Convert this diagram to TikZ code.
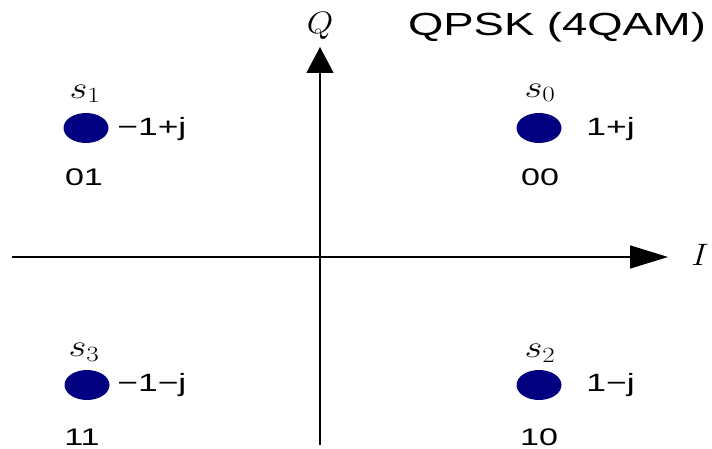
\RequirePackage{fix-cm}
\documentclass[tikz,border=0pt]{standalone}
\usepackage{fontspec}
\setsansfont{Liberation Sans}
\usetikzlibrary{arrows.meta,shapes.geometric}
\definecolor{dotblue}{HTML}{000080}
\begin{document}
\begin{tikzpicture}[x=1pt,y=-1pt,
  axis/.style={line width=1.4pt},
  sym/.style={ellipse,fill=dotblue,minimum width=45pt,minimum height=30pt,inner sep=0pt},
  val/.style={font=\sffamily\fontsize{25}{27}\selectfont,anchor=west,xscale=1.42,inner sep=0pt},
  bits/.style={font=\sffamily\fontsize{24}{26}\selectfont,xscale=1.42,inner sep=0pt},
  slab/.style={font=\fontsize{31}{33}\selectfont,xscale=1.25,inner sep=0pt},
  axlab/.style={font=\fontsize{31}{33}\selectfont,xscale=1.1,inner sep=0pt}]
\useasboundingbox (0,0) rectangle (712,449);
\coordinate (xl) at (12,257);
\coordinate (xr) at (668,257);
\coordinate (yb) at (320,445);
\coordinate (yt) at (320,47);
\draw[axis,-{Triangle[length=38pt,width=23pt]}] (xl) -- (xr);
\draw[axis,-{Triangle[length=26pt,width=27pt]}] (yb) -- (yt);
\node[axlab] (Ilab) at (700,255) {$I$};
\node[axlab] (Qlab) at (320,26) {$Q$};
\node[font=\sffamily\fontsize{32}{34}\selectfont,xscale=1.42,inner sep=0pt] (title) at (557,27) {QPSK (4QAM)};
% s1
\node[sym] (d1) at (86,128) {};
\node[slab] (l1) at (85,94) {$s_1$};
\node[val] (v1) at (117,129) {−1+j};
\node[bits] (b1) at (84,177) {01};
% s0
\node[sym] (d0) at (539,128) {};
\node[slab] (l0) at (540,93) {$s_0$};
\node[val] (v0) at (586,129) {1+j};
\node[bits] (b0) at (540,177) {00};
% s3
\node[sym] (d3) at (87,385) {};
\node[slab] (l3) at (84,352) {$s_3$};
\node[val] (v3) at (117,385) {−1−j};
\node[bits] (b3) at (82,437) {11};
% s2
\node[sym] (d2) at (539,385) {};
\node[slab] (l2) at (540,353) {$s_2$};
\node[val] (v2) at (586,385) {1−j};
\node[bits] (b2) at (539,437) {10};
\end{tikzpicture}
\end{document}
